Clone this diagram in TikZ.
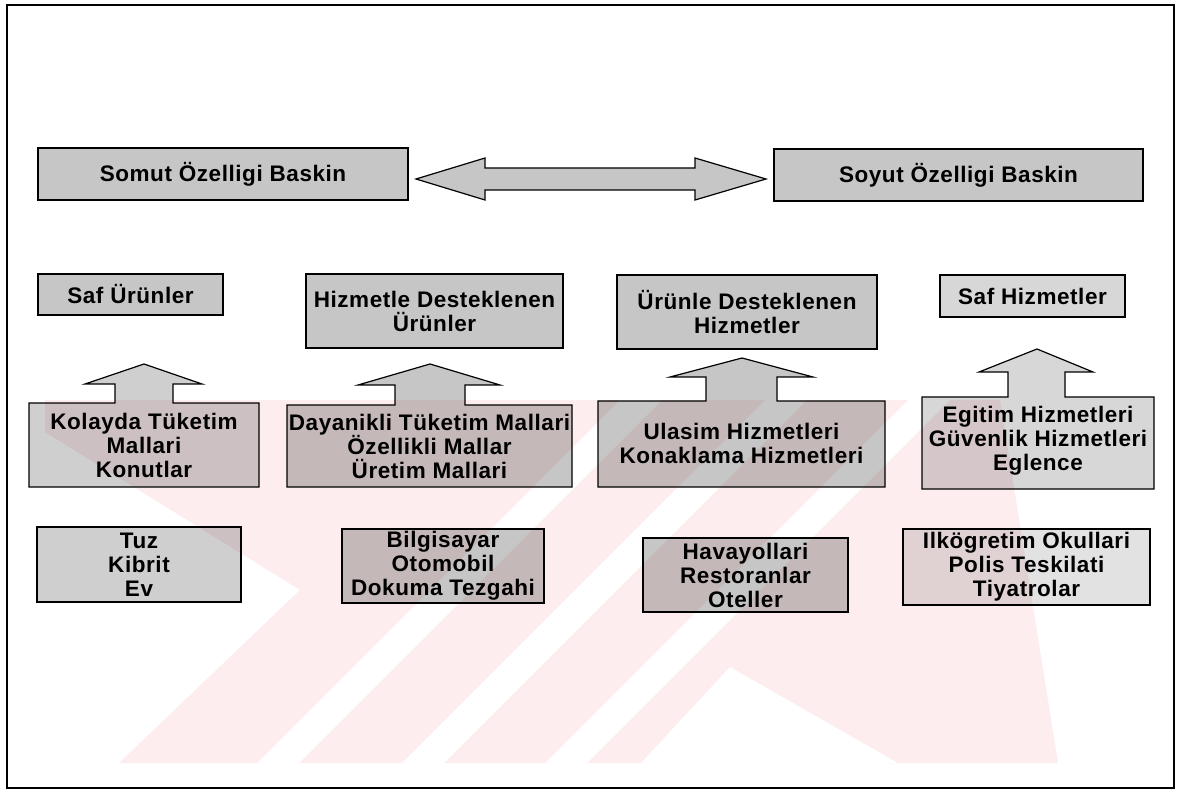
\documentclass[tikz,border=0pt]{standalone}
\usepackage{fontspec}
\setmainfont{Liberation Sans}
\newfontfamily\boxfont[LetterSpace=2.5]{Liberation Sans}
\definecolor{wmpink}{HTML}{FDEDEF}
\definecolor{graydark}{HTML}{C6C6C6}
\definecolor{graymid}{HTML}{CFCFCF}
\definecolor{graylight}{HTML}{D7D7D7}
\definecolor{grayfaint}{HTML}{E2E2E2}
\begin{document}
\begin{tikzpicture}[x=1pt,y=-1pt,
  outline/.style={draw=black,line width=1.2pt,line join=miter,blend mode=multiply},
  box/.style={outline,inner sep=0pt,align=center,
    font=\boxfont\bfseries\fontsize{22.5}{24}\selectfont},
  txt/.style={inner sep=0pt,align=center,
    font=\boxfont\bfseries\fontsize{22.5}{24}\selectfont},
  wmark/.style={fill=wmpink},
  gap/.style={fill=white}]
\useasboundingbox (0,0) rectangle (1184,794);
\fill[white] (0,0) rectangle (1184,794);

% faint background emblem: pink field cut by white diagonal stripes
\begin{scope}
  \clip (45,400) rectangle (1058,763);
  \fill[wmark] (45,400) -- (1000,400) -- (1058,763) -- (119,763) -- (300,590) -- (45,432) -- cycle;
  \foreach \x in {257,402,545}
    \fill[gap] (\x,763) -- (\x+42,763) -- (\x+405,400) -- (\x+363,400) -- cycle;
  \fill[gap] (641,763) -- (730,667) -- (898,763) -- cycle;
\end{scope}

% outer frame
\draw[line width=1.5pt] (7,5) rectangle (1174,788);

% top row and the two-headed arrow between its boxes
\node[box,fill=graydark,minimum width=370pt,minimum height=52pt] (somut) at (223,174) {Somut Özelligi Baskin};
\node[box,fill=graydark,minimum width=369pt,minimum height=52pt] (soyut) at (958.5,175) {Soyut Özelligi Baskin};
\filldraw[outline,fill=graydark] (416,179) -- (485,158) -- (485,168) -- (695,168) -- (695,158)
  -- (766,179) -- (695,200) -- (695,190) -- (485,190) -- (485,200) -- cycle;

% second row
\node[box,fill=graydark,minimum width=185pt,minimum height=41pt] (safurun) at (130.5,294.5) {Saf Ürünler};
\node[box,fill=graydark,minimum width=257pt,minimum height=74pt] (hizurun) at (434.5,311) {Hizmetle Desteklenen\\Ürünler};
\node[box,fill=graydark,minimum width=260pt,minimum height=74pt] (urunhiz) at (747,312) {Ürünle Desteklenen\\Hizmetler};
\node[box,fill=graylight,minimum width=185pt,minimum height=42pt] (safhiz) at (1032.5,296) {Saf Hizmetler};

% third row: boxes merged with their block arrows
\filldraw[outline,fill=graymid] (29,403) -- (115,403) -- (115,384) -- (85,384) -- (144,364)
  -- (202,384) -- (173,384) -- (173,403) -- (259,403) -- (259,487) -- (29,487) -- cycle;
\filldraw[outline,fill=graydark] (287,405) -- (395,405) -- (395,385) -- (358,385) -- (430,364)
  -- (500,385) -- (465,385) -- (465,405) -- (572,405) -- (572,487) -- (287,487) -- cycle;
\filldraw[outline,fill=graydark] (598,401) -- (706,401) -- (706,377) -- (670,377) -- (742,358)
  -- (813,377) -- (777,377) -- (777,401) -- (885,401) -- (885,487) -- (598,487) -- cycle;
\filldraw[outline,fill=graylight] (922,397) -- (1008,397) -- (1008,372) -- (979,372) -- (1037,349)
  -- (1093,372) -- (1065,372) -- (1065,397) -- (1154,397) -- (1154,489) -- (922,489) -- cycle;
\node[txt] (kolay) at (144,445) {Kolayda Tüketim\\Mallari\\Konutlar};
\node[txt] (dayan) at (429.5,446) {Dayanikli Tüketim Mallari\\Özellikli Mallar\\Üretim Mallari};
\node[txt] (ulas) at (741.5,443) {Ulasim Hizmetleri\\Konaklama Hizmetleri};
\node[txt] (egit) at (1038,441) {Egitim Hizmetleri\\Güvenlik Hizmetleri\\Eglence};

% bottom row of examples
\node[box,fill=graymid,minimum width=204pt,minimum height=75pt] (tuz) at (139,564.5) {Tuz\\Kibrit\\Ev};
\node[box,fill=graydark,minimum width=202pt,minimum height=74pt] (bilg) at (443,566) {Bilgisayar\\Otomobil\\Dokuma Tezgahi};
\node[box,fill=graydark,minimum width=205pt,minimum height=74pt] (hava) at (745.5,575) {Havayollari\\Restoranlar\\Oteller};
\node[box,fill=grayfaint,minimum width=247pt,minimum height=76pt] (ilk) at (1026.5,567) {Ilkögretim Okullari\\Polis Teskilati\\Tiyatrolar};
\end{tikzpicture}
\end{document}
